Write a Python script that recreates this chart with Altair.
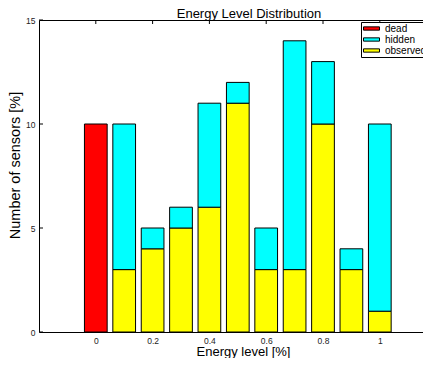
import altair as alt
import pandas as pd

# ---- data ----
levels = [0.0, 0.1, 0.2, 0.3, 0.4, 0.5, 0.6, 0.7, 0.8, 0.9, 1.0]
dead = [10, 0, 0, 0, 0, 0, 0, 0, 0, 0, 0]
observed = [0, 3, 4, 5, 6, 11, 3, 3, 10, 3, 1]
hidden = [0, 7, 1, 1, 5, 1, 2, 11, 3, 1, 9]
categories = ["dead", "hidden", "observed"]
colors = ["#FF0000", "#00FFFF", "#FFFF00"]
stack_order = {"dead": 0, "observed": 1, "hidden": 2}
x_tick_values = [0, 0.2, 0.4, 0.6, 0.8, 1]
y_tick_values = [0, 5, 10, 15]

rows = []
for i, lv in enumerate(levels):
    for cat, series in (("dead", dead), ("observed", observed), ("hidden", hidden)):
        if series[i] > 0:
            rows.append({"level": lv, "cat": cat, "value": series[i], "ord": stack_order[cat]})
df = pd.DataFrame(rows)

FONT = "Liberation Sans"
xscale = alt.Scale(domain=[-0.2, 1.3], nice=False, zero=False)
yscale = alt.Scale(domain=[0, 15], nice=False)

bars = alt.Chart(df).transform_stack(
    stack="value", groupby=["level"], as_=["y0", "y1"],
    sort=[alt.SortField("ord", order="ascending")]
).transform_calculate(
    xa="datum.level - 0.04", xb="datum.level + 0.04"
).mark_rect(stroke="black", strokeWidth=1, opacity=1).encode(
    x=alt.X("xa:Q", scale=xscale, axis=alt.Axis(
        values=x_tick_values, format="~g", title="Energy level [%]",
        ticks=False, domain=False, grid=False, labelFontSize=8.5, labelFont=FONT,
        labelColor="#222", labelPadding=4, titleFont=FONT, titleFontSize=13,
        titleFontWeight="normal", titleColor="black", titleX=204, titlePadding=1)),
    x2="xb:Q",
    y=alt.Y("y0:Q", scale=yscale, axis=alt.Axis(
        values=y_tick_values, title="Number of sensors [%]", ticks=False,
        domain=False, grid=False, labelFontSize=8.5, labelFont=FONT,
        labelColor="#222", labelPadding=4, titleFont=FONT, titleFontSize=14.5,
        titleFontWeight="normal", titleColor="black", titleY=145, titlePadding=3)),
    y2="y1:Q",
    color=alt.Color("cat:N", scale=alt.Scale(domain=categories, range=colors),
                    legend=alt.Legend(
                        orient="none", legendX=322, legendY=2, title=None,
                        strokeColor="black", fillColor="white", padding=1,
                        symbolType="M-1.6,-0.33H1.6V0.33H-1.6Z", symbolSize=100,
                        symbolStrokeColor="black", symbolStrokeWidth=1,
                        symbolOpacity=1, symbolOffset=4, labelFont=FONT, labelFontSize=10,
                        labelColor="black", labelOffset=8, rowPadding=-1,
                        cornerRadius=0)),
)

ytick_df = pd.DataFrame({"v": y_tick_values})
yticks = alt.Chart(ytick_df).mark_rule(color="black", strokeWidth=1).encode(
    y=alt.Y("v:Q", scale=yscale), x=alt.value(0), x2=alt.value(4))

xtick_df = pd.DataFrame({"v": x_tick_values})
xticks = alt.Chart(xtick_df).mark_rule(color="black", strokeWidth=1).encode(
    x=alt.X("v:Q", scale=xscale), y=alt.value(0), y2=alt.value(4))

chart = alt.layer(bars, yticks, xticks).properties(
    width=426, height=312,
    title=alt.Title("Energy Level Distribution", font=FONT, fontSize=13,
                    fontWeight="normal", color="black", offset=3, dx=-3, dy=18,
                    baseline="alphabetic"),
    autosize=alt.AutoSizeParams(type="none"),
    padding={"left": 31, "top": 12, "right": -42, "bottom": 26},
).configure_view(stroke="black", strokeWidth=1)

chart.save("out.html", embed_options={"renderer": "svg", "actions": False})
